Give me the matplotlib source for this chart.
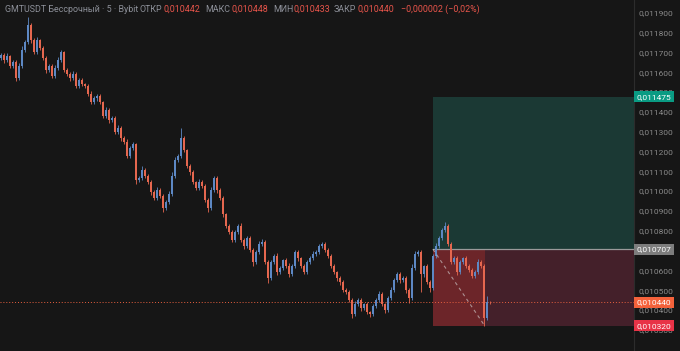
import matplotlib
matplotlib.use("Agg")
import matplotlib.pyplot as plt
import matplotlib.transforms as mtransforms
import numpy as np

# ---- 5-minute candles, prices in units of 1e-6 USDT ----
closes = [
    11687, 11661, 11682, 11631, 11651, 11571, 11631, 11712, 11752, 11838,
    11762, 11702, 11762, 11722, 11671, 11611, 11631, 11581, 11621, 11661,
    11702, 11611, 11591, 11571, 11591, 11530, 11560, 11540, 11530, 11490,
    11449, 11470, 11480, 11449, 11379, 11409, 11359, 11369, 11298, 11318,
    11268, 11248, 11177, 11217, 11238, 11056, 11066, 11106, 11076, 11046,
    10995, 10965, 11005, 10975, 10915, 10945, 10985, 11076, 11157, 11177,
    11268, 11207, 11127, 11096, 11046, 11016, 11046, 11026, 10955, 10915,
    11005, 11066, 11005, 10965, 10884, 10824, 10794, 10753, 10794, 10824,
    10753, 10723, 10763, 10703, 10642, 10693, 10733, 10743, 10642, 10562,
    10642, 10673, 10592, 10612, 10652, 10622, 10582, 10622, 10693, 10662,
    10622, 10592, 10642, 10662, 10683, 10693, 10723, 10733, 10703, 10673,
    10622, 10592, 10562, 10541, 10501, 10491, 10451, 10380, 10430, 10451,
    10410, 10430, 10390, 10380, 10420, 10451, 10481, 10430, 10400, 10461,
    10501, 10551, 10582, 10551, 10562, 10501, 10461, 10612, 10683, 10693,
    10580, 10620, 10541, 10511, 10673, 10723, 10763, 10804, 10824, 10733,
    10642, 10662, 10592, 10642, 10662, 10622, 10602, 10572, 10592, 10642,
    10622, 10360, 10442, 10440,
]
first_open = 11670

upper_wick = [
    12, 8, 15, 6, 10, 9, 14, 20, 12, 40,
    10, 8, 15, 6, 12, 9, 10, 8, 14, 18,
    10, 6, 12, 9, 15, 8, 10, 12, 6, 9,
    14, 8, 12, 10, 6, 15, 8, 12, 10, 14,
    9, 12, 15, 10, 8, 6, 12, 20, 10, 8,
    12, 9, 14, 10, 8, 12, 15, 20, 14, 12,
    50, 10, 8, 12, 9, 6, 14, 10, 8, 12,
    15, 10, 8, 12, 9, 6, 10, 12, 8, 10,
    14, 12, 9, 10, 8, 12, 15, 14, 8, 10,
    12, 9, 14, 10, 8, 12, 15, 10, 8, 12,
    6, 10, 9, 12, 14, 10, 8, 12, 10, 9,
    8, 12, 6, 10, 9, 12, 8, 10, 14, 9,
    12, 8, 10, 6, 12, 9, 14, 10, 8, 12,
    14, 10, 8, 10, 12, 9, 8, 20, 14, 12,
    10, 8, 12, 9, 10, 14, 12, 10, 20, 8,
    10, 12, 9, 10, 8, 12, 10, 8, 12, 14,
    10, 8, 28, 6,
]
lower_wick = [
    10, 14, 8, 12, 9, 15, 10, 8, 12, 10,
    14, 9, 8, 12, 10, 15, 8, 12, 9, 10,
    8, 12, 10, 14, 9, 12, 8, 10, 12, 9,
    10, 8, 14, 9, 12, 10, 15, 8, 12, 10,
    14, 9, 12, 10, 8, 20, 10, 12, 9, 10,
    15, 12, 8, 10, 20, 9, 12, 10, 8, 12,
    10, 12, 9, 14, 10, 12, 8, 10, 12, 20,
    9, 10, 12, 8, 14, 10, 12, 9, 10, 12,
    8, 14, 10, 12, 20, 9, 10, 8, 12, 25,
    10, 12, 14, 9, 10, 12, 15, 10, 8, 12,
    9, 10, 12, 8, 10, 12, 9, 10, 8, 12,
    10, 12, 14, 15, 10, 12, 9, 20, 10, 12,
    14, 10, 12, 15, 10, 9, 12, 10, 14, 10,
    12, 10, 9, 12, 10, 14, 25, 10, 8, 12,
    90, 12, 10, 20, 9, 12, 10, 8, 12, 10,
    12, 10, 14, 9, 12, 10, 8, 12, 10, 9,
    12, 42, 10, 7,
]

# long position tool
entry_price = 0.010707
target_price = 0.011475
stop_price = 0.010320
last_price = 0.010440
entry_index = 144
stop_hit_index = 161.3

yticks = [0.0103, 0.0104, 0.0105, 0.0106, 0.0108, 0.0109, 0.0110, 0.0111,
          0.0112, 0.0113, 0.0114, 0.0115, 0.0116, 0.0117, 0.0118, 0.0119]

# legend line: (text, colour, anchor x in px, horizontal alignment)
header_parts = [
    ("GMTUSDT Бессрочный · 5 · Bybit", "#8d9099", 5, "left"),
    ("ОТКР", "#8d9099", 162, "right"), ("0,010442", "#e9554b", 163, "left"),
    ("МАКС", "#8d9099", 230, "right"), ("0,010448", "#e9554b", 231, "left"),
    ("МИН", "#8d9099", 293, "right"), ("0,010433", "#e9554b", 294, "left"),
    ("ЗАКР", "#8d9099", 356, "right"), ("0,010440", "#e9554b", 357, "left"),
    ("−0,000002 (−0,02%)", "#e9554b", 401, "left"),
]

# ---- build OHLC ----
scale = 1e-6
c = np.array(closes, dtype=float) * scale
o = np.concatenate([[first_open * scale], c[:-1]])
h = np.maximum(o, c) + np.array(upper_wick) * scale
l = np.minimum(o, c) - np.array(lower_wick) * scale
idx = np.arange(len(c))

BG = "#161616"
UP = "#5d88c4"
DOWN = "#e5674f"
FONT = "Roboto"

W, H = 680, 351
fig = plt.figure(figsize=(W / 100, H / 100), dpi=100, facecolor=BG)
ax = fig.add_axes([0, 0, 634 / W, 1])
ax.set_facecolor(BG)

x_left = -0.3
x_right = x_left + 634 / 3
ax.set_xlim(x_left, x_right)
ax.set_ylim(0.0101935, 0.0119641)

# position tool boxes
ax.fill_between([entry_index, x_right], entry_price, target_price,
                color="#1b3934", lw=0, zorder=0)
ax.fill_between([entry_index, x_right], stop_price, entry_price,
                color="#44202a", lw=0, zorder=0)
ax.fill_between([entry_index, stop_hit_index], stop_price, entry_price,
                color="#6c2529", lw=0, zorder=0.5)
ax.plot([entry_index, x_right], [entry_price, entry_price],
        color="#9a9a9a", lw=0.9, zorder=1)

# candles
colors = np.where(c >= o, UP, DOWN)
ax.vlines(idx, l, h, colors=colors, lw=0.6, zorder=2)
body_lo = np.minimum(o, c)
body_h = np.maximum(np.abs(c - o), 1.5 * scale)
ax.bar(idx, body_h, bottom=body_lo, width=0.5, color=colors, lw=0, zorder=3)

# stop-out path
ax.plot([entry_index, stop_hit_index], [entry_price, stop_price],
        color="#d8d8d8", lw=0.8, ls=(0, (3, 3)), alpha=0.6, zorder=4)

# last price line
ax.axhline(last_price, color="#e8603f", lw=0.7, ls=(0, (1, 2)), zorder=1.5)

# price scale on the right
ax.yaxis.tick_right()
ax.set_yticks(yticks)
ax.yaxis.set_major_formatter(lambda v, p: f"{v:.6f}".replace(".", ","))
ax.tick_params(axis="y", length=0, pad=3.5, labelsize=6.0, labelcolor="#8a8a8a")
ax.set_xticks([])
for s in ["top", "bottom", "left"]:
    ax.spines[s].set_visible(False)
ax.spines["right"].set_color("#2c2c2c")
ax.spines["right"].set_linewidth(0.8)
for t in ax.get_yticklabels():
    t.set_fontfamily(FONT)

# price badges
trans = mtransforms.blended_transform_factory(ax.transAxes, ax.transData)
badges = [
    (target_price, "#0a9b83", "white"),
    (entry_price, "#7d7d7d", "white"),
    (last_price, "#f4623b", "white"),
    (stop_price, "#e83347", "white"),
]
for val, bg, fg in badges:
    ax.text(1.0045, val, f"{val:.6f}".replace(".", ","), transform=trans,
            ha="left", va="center", fontsize=6.0, color=fg, clip_on=False,
            zorder=10, family=FONT,
            bbox=dict(boxstyle="square,pad=0.3", fc=bg, ec="none"))

# header legend line
for txt, col, x_px, ha in header_parts:
    fig.text(x_px / W, 1 - 9 / H, txt, color=col, fontsize=6.4,
             va="center", ha=ha, family=FONT)

fig.savefig("out.png", dpi=100, facecolor=BG)
